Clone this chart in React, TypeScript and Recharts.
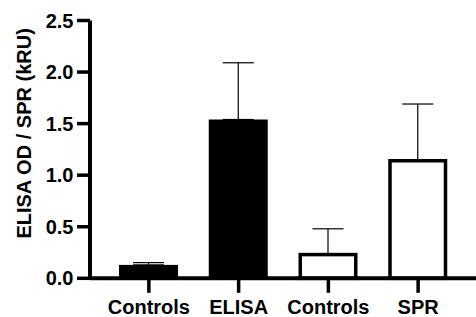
import { BarChart, Bar, XAxis, YAxis, ErrorBar } from 'recharts';

const groups = ['Controls', 'ELISA', 'Controls', 'SPR'];
const methods = ['ELISA', 'ELISA', 'SPR', 'SPR'];
const means = [0.13, 1.54, 0.23, 1.14];
const upperSd = [0.022, 0.55, 0.25, 0.55];
const yTicks = [0, 0.5, 1.0, 1.5, 2.0, 2.5];

const data = groups.map((name, i) => ({
  id: i,
  name,
  method: methods[i],
  value: means[i],
  err: [0, upperSd[i]],
}));

const FONT = '"Liberation Sans", Arial, sans-serif';
const OPEN_STROKE = 3.5;

const BarShape = (props: any) => {
  const { x, y, width, height, payload } = props;
  if (payload.method === 'ELISA') {
    return <rect x={x} y={y} width={width} height={height} fill="#000" />;
  }
  return (
    <rect
      x={x + OPEN_STROKE / 2}
      y={y}
      width={width - OPEN_STROKE}
      height={height}
      fill="#fff"
      stroke="#000"
      strokeWidth={OPEN_STROKE}
    />
  );
};

const AxisTitle = ({ viewBox }: any) => {
  const cx = viewBox.x + 24;
  const cy = viewBox.y + viewBox.height / 2 - 16;
  return (
    <text
      x={cx}
      y={cy}
      transform={`rotate(-90 ${cx} ${cy})`}
      textAnchor="middle"
      dominantBaseline="central"
      fontFamily={FONT}
      fontWeight="bold"
      fontSize={20}
      fill="#000"
    >
      ELISA OD / SPR (kRU)
    </text>
  );
};

export default function App() {
  return (
    <div style={{ position: 'absolute', left: 0, top: 0, background: '#fff' }}>
      <BarChart
        width={476}
        height={317}
        data={data}
        margin={{ top: 20.5, right: 0, bottom: 0, left: 0 }}
      >
        <Bar dataKey="value" barSize={59} shape={BarShape} isAnimationActive={false}>
          <ErrorBar dataKey="err" direction="y" width={15.5} stroke="#000" strokeWidth={1.2} />
        </Bar>
        <XAxis
          dataKey="id"
          tickFormatter={(i: number) => groups[i]}
          height={38.7}
          padding={{ left: 14, right: 13 }}
          axisLine={{ stroke: '#000', strokeWidth: 4 }}
          tickLine={{ stroke: '#000', strokeWidth: 3.5 }}
          tickSize={14.5}
          tickMargin={6.5}
          tick={{ fill: '#000', fontFamily: FONT, fontWeight: 'bold', fontSize: 20 }}
        />
        <YAxis
          width={90}
          domain={[0, 2.5]}
          ticks={yTicks}
          tickFormatter={(v: number) => v.toFixed(1)}
          axisLine={{ stroke: '#000', strokeWidth: 4 }}
          tickLine={{ stroke: '#000', strokeWidth: 3.5 }}
          tickSize={13}
          tickMargin={3.5}
          tick={{ fill: '#000', fontFamily: FONT, fontWeight: 'bold', fontSize: 20 }}
          label={{ content: AxisTitle }}
        />
      </BarChart>
    </div>
  );
}
